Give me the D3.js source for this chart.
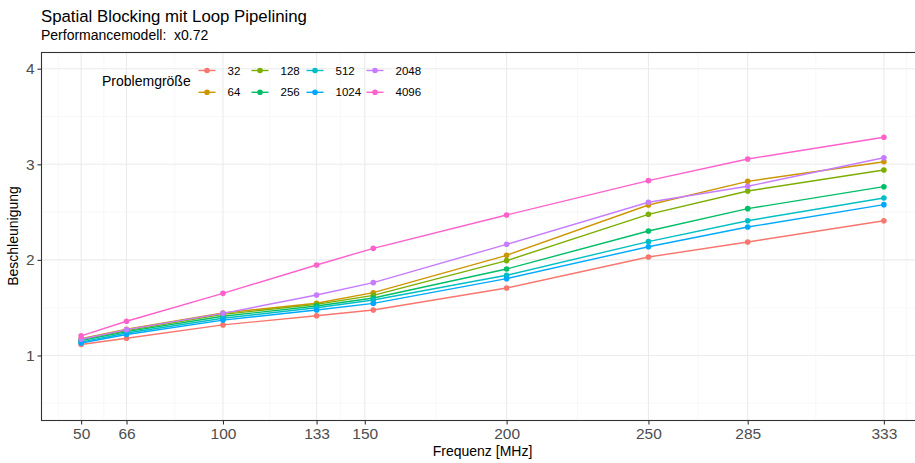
<!DOCTYPE html>
<html>
<head>
<meta charset="utf-8">
<script src="https://cdn.jsdelivr.net/npm/d3@7"></script>
<style>
  html, body { margin: 0; padding: 0; background: #fff; }
  svg { display: block; font-family: "Liberation Sans", Arial, sans-serif; }
</style>
</head>
<body>
<svg id="chart" width="915" height="463"></svg>
<script>
// Clock frequencies (MHz) at which the speed-up was measured
const frequencies = [50, 66, 100, 133, 153, 200, 250, 285, 333];
// Tick positions shown on the frequency axis
const freqTicks = [50, 66, 100, 133, 150, 200, 250, 285, 333];
const speedTicks = [1, 2, 3, 4];

// Problem sizes (legend order)
const problemSizes = ["32", "64", "128", "256", "512", "1024", "2048", "4096"];

// Speed-up per problem size, one value per frequency
const speedup32   = [1.115, 1.180, 1.320, 1.416, 1.476, 1.706, 2.030, 2.187, 2.410];
const speedup64   = [1.175, 1.275, 1.445, 1.546, 1.657, 2.048, 2.574, 2.822, 3.027];
const speedup128  = [1.165, 1.260, 1.430, 1.535, 1.629, 1.992, 2.477, 2.721, 2.941];
const speedup256  = [1.155, 1.250, 1.410, 1.518, 1.601, 1.905, 2.302, 2.536, 2.766];
const speedup512  = [1.140, 1.235, 1.390, 1.500, 1.580, 1.839, 2.191, 2.410, 2.648];
const speedup1024 = [1.130, 1.220, 1.370, 1.476, 1.545, 1.804, 2.138, 2.344, 2.578];
const speedup2048 = [1.170, 1.270, 1.440, 1.633, 1.762, 2.163, 2.603, 2.770, 3.069];
const speedup4096 = [1.205, 1.358, 1.650, 1.947, 2.121, 2.470, 2.829, 3.056, 3.283];

const seriesValues = [speedup32, speedup64, speedup128, speedup256,
                      speedup512, speedup1024, speedup2048, speedup4096];

const palette = ["#F8766D", "#CD9600", "#7CAE00", "#00BE67",
                 "#00BFC4", "#00A9FF", "#C77CFF", "#FF61CC"];

const series = problemSizes.map((name, i) => ({
  name,
  color: palette[i],
  points: frequencies.map((f, j) => ({ f, v: seriesValues[i][j] }))
}));

const svg = d3.select("#chart");

// Panel geometry (the panel runs slightly past the right edge of the canvas)
const panel = { left: 41, top: 52, right: 924, bottom: 420 };

// Data range expanded by 5 % on both axes
const xMin = 50, xMax = 333, xPad = (xMax - xMin) * 0.05;
const yMin = 0.5, yMax = 4, yPad = (yMax - yMin) * 0.05;

const x = d3.scaleLinear().domain([xMin - xPad, xMax + xPad]).range([panel.left, panel.right]);
const y = d3.scaleLinear().domain([yMin - yPad, yMax + yPad]).range([panel.bottom, panel.top]);

// Minor gridline positions: halfway between neighbouring major breaks
function minorBreaks(breaks, domain) {
  const b = breaks.slice();
  const bd = b[1] - b[0];
  if (domain[0] < b[0]) b.unshift(b[0] - bd);
  if (domain[1] > b[b.length - 1]) b.push(b[b.length - 1] + bd);
  const out = [];
  for (let i = 0; i < b.length - 1; i++) out.push((b[i] + b[i + 1]) / 2);
  return out.filter(v => v >= domain[0] && v <= domain[1]);
}

const grid = svg.append("g");
const xMinor = minorBreaks(freqTicks, x.domain());
const yMinor = minorBreaks(speedTicks, y.domain());

grid.selectAll(".xminor").data(xMinor).join("line")
  .attr("x1", d => x(d)).attr("x2", d => x(d))
  .attr("y1", panel.top).attr("y2", panel.bottom)
  .attr("stroke", "#F2F2F2").attr("stroke-width", 0.55);
grid.selectAll(".yminor").data(yMinor).join("line")
  .attr("x1", panel.left).attr("x2", panel.right)
  .attr("y1", d => y(d)).attr("y2", d => y(d))
  .attr("stroke", "#F2F2F2").attr("stroke-width", 0.55);
grid.selectAll(".xmajor").data(freqTicks).join("line")
  .attr("x1", d => x(d)).attr("x2", d => x(d))
  .attr("y1", panel.top).attr("y2", panel.bottom)
  .attr("stroke", "#EBEBEB").attr("stroke-width", 1.1);
grid.selectAll(".ymajor").data(speedTicks).join("line")
  .attr("x1", panel.left).attr("x2", panel.right)
  .attr("y1", d => y(d)).attr("y2", d => y(d))
  .attr("stroke", "#EBEBEB").attr("stroke-width", 1.1);

// Lines and points
const line = d3.line().x(d => x(d.f)).y(d => y(d.v));
const marks = svg.append("g");
series.forEach(s => {
  marks.append("path")
    .attr("d", line(s.points))
    .attr("fill", "none")
    .attr("stroke", s.color)
    .attr("stroke-width", 1.4);
});
series.forEach(s => {
  marks.selectAll(null).data(s.points).join("circle")
    .attr("cx", d => x(d.f)).attr("cy", d => y(d.v))
    .attr("r", 2.8).attr("fill", s.color);
});

// Panel border
svg.append("rect")
  .attr("x", panel.left + 0.5).attr("y", panel.top + 0.5)
  .attr("width", panel.right - panel.left).attr("height", panel.bottom - panel.top)
  .attr("fill", "none").attr("stroke", "#333333").attr("stroke-width", 1.1);

// Axes
const xAxis = d3.axisBottom(x).tickValues(freqTicks).tickSize(4).tickPadding(3).tickFormat(d3.format("d"));
const yAxis = d3.axisLeft(y).tickValues(speedTicks).tickSize(4).tickPadding(3).tickFormat(d3.format("d"));

const gx = svg.append("g").attr("transform", `translate(0,${panel.bottom + 0.5})`).call(xAxis);
const gy = svg.append("g").attr("transform", `translate(${panel.left + 0.5},0)`).call(yAxis);
[gx, gy].forEach(g => {
  g.select(".domain").remove();
  g.selectAll(".tick line").attr("stroke", "#333333").attr("stroke-width", 1.1);
  g.selectAll(".tick text")
    .attr("fill", "#4D4D4D")
    .style("font-size", "15.5px")
    .style("font-family", "'Liberation Sans', Arial, sans-serif");
});

// Axis titles
svg.append("text")
  .attr("x", (panel.left + panel.right) / 2).attr("y", 456)
  .attr("text-anchor", "middle").style("font-size", "14px")
  .text("Frequenz [MHz]");
svg.append("text")
  .attr("transform", `translate(18,${(panel.top + panel.bottom) / 2}) rotate(-90)`)
  .attr("text-anchor", "middle").style("font-size", "14px")
  .text("Beschleunigung");

// Title and subtitle
svg.append("text").attr("x", panel.left).attr("y", 22)
  .style("font-size", "16.8px").text("Spatial Blocking mit Loop Pipelining");
svg.append("text").attr("x", panel.left).attr("y", 40)
  .style("font-size", "14px").style("white-space", "pre")
  .text("Performancemodell:  x0.72");

// Legend (two rows, filled column by column)
const legend = svg.append("g");
legend.append("text")
  .attr("x", 102).attr("y", 81.5).attr("dy", "0.35em")
  .style("font-size", "14px").text("Problemgröße");

const colX = [207, 260, 315, 375];
const rowY = [70.5, 92.3];
series.forEach((s, i) => {
  const cx = colX[Math.floor(i / 2)];
  const cy = rowY[i % 2];
  const g = legend.append("g");
  g.append("line")
    .attr("x1", cx - 8.5).attr("x2", cx + 8.5)
    .attr("y1", cy).attr("y2", cy)
    .attr("stroke", s.color).attr("stroke-width", 1.4);
  g.append("circle").attr("cx", cx).attr("cy", cy).attr("r", 2.8).attr("fill", s.color);
  g.append("text")
    .attr("x", cx + 20.5).attr("y", cy).attr("dy", "0.35em")
    .style("font-size", "11.5px").text(s.name);
});
</script>
</body>
</html>
